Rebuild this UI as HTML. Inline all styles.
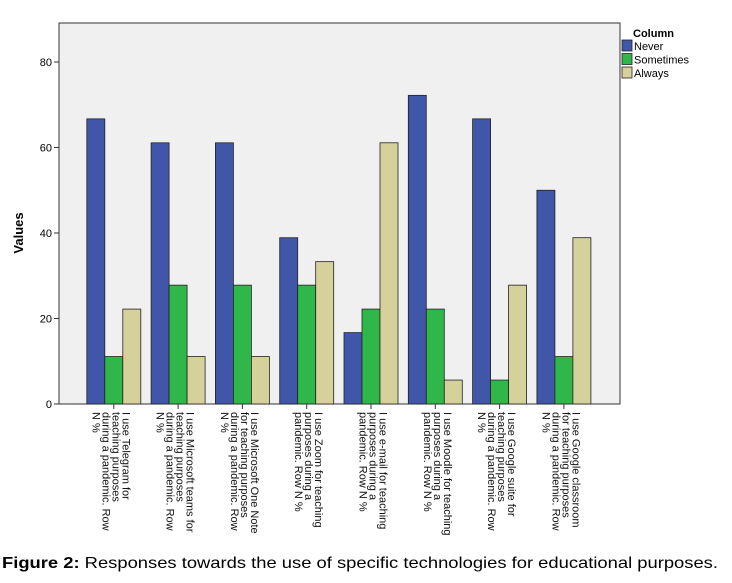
<!DOCTYPE html>
<html><head><meta charset="utf-8"><style>
body{margin:0;background:#fff;width:732px;height:578px;overflow:hidden;font-family:"Liberation Sans",Arial,sans-serif}
</style></head><body>
<svg id="chart" width="732" height="578" xmlns="http://www.w3.org/2000/svg" font-family="Liberation Sans, Arial, sans-serif">
<rect x="59" y="23" width="561" height="381" fill="#f0f0f0" stroke="#333" stroke-width="1"/>
<g id="bars"></g><g id="yaxis"></g><g id="xlabels"></g>
<text transform="translate(23,233) rotate(-90)" text-anchor="middle" font-size="13" font-weight="bold">Values</text>
<g>
<text x="633" y="37" font-size="11" font-weight="bold">Column</text>
<g id="legend"></g>
</g>
<text x="2" y="568" font-size="16" textLength="716" lengthAdjust="spacingAndGlyphs"><tspan font-weight="bold">Figure 2:</tspan> Responses towards the use of specific technologies for educational purposes.</text>
</svg>
<script>
const categories=[["I use Telegram for","teaching purposes","during a pandemic. Row","N %"],["I use Microsoft teams for","teaching purposes","during a pandemic. Row","N %"],["I use Microsoft One Note","for teaching purposes","during a pandemic. Row","N %"],["I use Zoom for teaching","purposes during a","pandemic. Row N %"],["I use e-mail for teaching","purposes during a","pandemic. Row N %"],["I use Moodle for teaching","purposes during a","pandemic. Row N %"],["I use Google suite for","teaching purposes","during a pandemic. Row","N %"],["I use Google classroom","for teaching purposes","during a pandemic. Row","N %"]];
const never=[66.7,61.1,61.1,38.9,16.7,72.2,66.7,50.0];
const sometimes=[11.1,27.8,27.8,27.8,22.2,22.2,5.6,11.1];
const always=[22.2,11.1,11.1,33.3,61.1,5.6,27.8,38.9];
const seriesNames=["Never","Sometimes","Always"];
const yTicks=[0,20,40,60,80];
const colors=["#3f56a9","#30b74a","#d6d09a"];
const NS="http://www.w3.org/2000/svg";
const y0=404,pxPer=85.5/20;
const yScale=v=>y0-v*pxPer;
const gStart=i=>86.8+i*64.3;
const bw=18;
function mk(t,a,p){const e=document.createElementNS(NS,t);for(const k in a)e.setAttribute(k,a[k]);p.appendChild(e);return e;}
const bars=document.getElementById('bars');
[never,sometimes,always].forEach((s,si)=>{s.forEach((v,i)=>{
 const r=mk('rect',{x:gStart(i)+si*bw,y:yScale(v),width:bw,height:y0-yScale(v),fill:colors[si],stroke:'#222','stroke-width':0.8},bars);
 
 
});});
const ya=document.getElementById('yaxis');
yTicks.forEach(t=>{
 const l=mk('line',{x1:54,x2:59,y1:yScale(t),y2:yScale(t),stroke:'#333'},ya);
 
 
 const tx=mk('text',{x:52,y:yScale(t)+4,'text-anchor':'end','font-size':11},ya);
 
 
 tx.textContent=t;
});
const xl=document.getElementById('xlabels');
categories.forEach((lines,i)=>{
 const cx=gStart(i)+1.5*bw;
 const l=mk('line',{x1:cx,x2:cx,y1:404,y2:409,stroke:'#333'},xl);
 
 
 const g=mk('g',{},xl);
 
 
 lines.forEach((ln,j)=>{
  const x=cx+8.5-j*10;
  const t=mk('text',{transform:`translate(${x},412) rotate(90)`,'font-size':11,fill:'#111'},g);
  t.textContent=ln;
 });
});
const lg=document.getElementById('legend');
seriesNames.forEach((n,i)=>{
 const y=40+i*13.5;
 const r=mk('rect',{x:622,y:y,width:10,height:11,fill:colors[i],stroke:'#222','stroke-width':0.8},lg);
 
 
 const t=mk('text',{x:634,y:y+10,'font-size':11},lg);
 
 
 t.textContent=n;
});
</script>
</body></html>
